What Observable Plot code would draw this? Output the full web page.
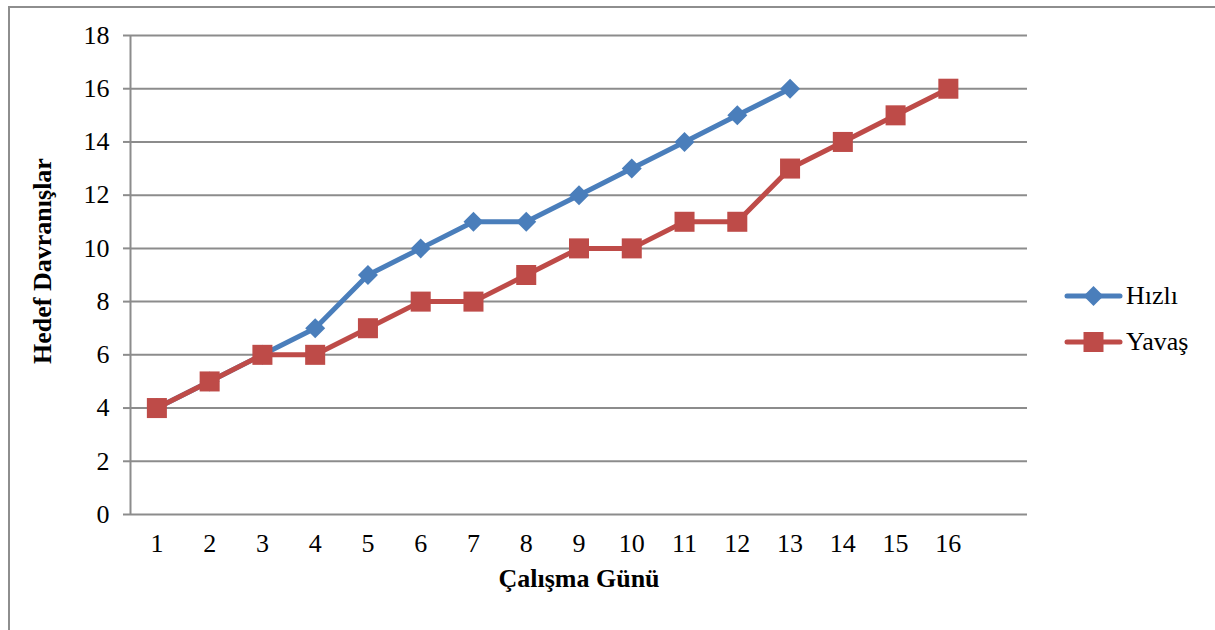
<!DOCTYPE html>
<html>
<head>
<meta charset="utf-8">
<script src="https://cdn.jsdelivr.net/npm/d3@7"></script>
<script src="https://cdn.jsdelivr.net/npm/@observablehq/plot@0.6"></script>
<style>
  html, body { margin: 0; padding: 0; background: #fff; overflow: hidden; }
  #wrap { position: relative; width: 1215px; height: 630px; overflow: hidden; font-family: "Liberation Serif", "Times New Roman", serif !important; }
  #wrap svg, #wrap svg text, #legend span { font-family: "Liberation Serif", "Times New Roman", serif !important; }
  #chart svg g[aria-label="y-axis tick label"] text, #chart svg g[aria-label="x-axis tick label"] text { font-size: 26px !important; }
  #border { position: absolute; left: 8px; top: 6px; width: 1220px; height: 700px; border: 2px solid #8e8e8e; box-sizing: border-box; }
  #chart { position: absolute; left: 0; top: 0; }
  #legend { position: absolute; left: 1064px; top: 273px; font-size: 26px; color: #000; }
  #legend .item { display: flex; align-items: center; height: 46px; }
  #legend svg { display: block; }
</style>
</head>
<body>
<div id="wrap">
  <div id="border"></div>
  <div id="chart"></div>
  <div id="legend"></div>
</div>
<script>
const days = [1, 2, 3, 4, 5, 6, 7, 8, 9, 10, 11, 12, 13, 14, 15, 16];
const hizli = [4, 5, 6, 7, 9, 10, 11, 11, 12, 13, 14, 15, 16];
const yavas = [4, 5, 6, 6, 7, 8, 8, 9, 10, 10, 11, 11, 13, 14, 15, 16];
const yTicks = [0, 2, 4, 6, 8, 10, 12, 14, 16, 18];
const seriesNames = ["Hızlı", "Yavaş"];
const colors = ["#4A7EBB", "#BE4B48"];
const xTitle = "Çalışma Günü";
const yTitle = "Hedef Davranışlar";

const hData = hizli.map((v, i) => ({day: days[i], value: v}));
const yData = yavas.map((v, i) => ({day: days[i], value: v}));

const chart = Plot.plot({
  width: 1215,
  height: 630,
  marginLeft: 130,
  marginRight: 188,
  marginTop: 35,
  marginBottom: 116,
  style: {fontFamily: "'Liberation Serif', 'Times New Roman', serif", fontSize: "26px", background: "transparent", color: "#000"},
  x: {domain: [0.5, 17.5], ticks: days},
  y: {domain: [0, 18], ticks: yTicks},
  marks: [
    Plot.ruleY(yTicks, {stroke: "#8c8c8c", strokeWidth: 2}),
    Plot.ruleX([0.5], {stroke: "#8c8c8c", strokeWidth: 2}),
    Plot.axisY({ticks: yTicks, tickSize: 7, tickPadding: 14, fontSize: 26, stroke: "#8c8c8c", strokeWidth: 2, label: null, tickFormat: d => String(d)}),
    Plot.axisX({ticks: days, tickSize: 0, tickPadding: 19, fontSize: 26, label: null, tickFormat: d => String(d)}),
    Plot.line(hData, {x: "day", y: "value", stroke: colors[0], strokeWidth: 5, strokeLinejoin: "round", strokeLinecap: "round"}),
    Plot.dot(hData, {x: "day", y: "value", symbol: "diamond2", r: 9, fill: colors[0], stroke: "none"}),
    Plot.line(yData, {x: "day", y: "value", stroke: colors[1], strokeWidth: 5, strokeLinejoin: "round", strokeLinecap: "round"}),
    Plot.dot(yData, {x: "day", y: "value", symbol: "square", r: 11.3, fill: colors[1], stroke: "none"}),
    Plot.text([xTitle], {frameAnchor: "bottom", dy: 64, fontSize: 26, fontWeight: "bold", lineAnchor: "middle", textAnchor: "middle"}),
    Plot.text([yTitle], {frameAnchor: "left", dx: -88, dy: -14, rotate: -90, fontSize: 26, fontWeight: "bold", lineAnchor: "middle", textAnchor: "middle"})
  ]
});
document.getElementById("chart").appendChild(chart);

// Legend
const legend = document.getElementById("legend");
seriesNames.forEach((name, i) => {
  const item = document.createElement("div");
  item.className = "item";
  const ns = "http://www.w3.org/2000/svg";
  const svg = document.createElementNS(ns, "svg");
  svg.setAttribute("width", 60);
  svg.setAttribute("height", 24);
  const line = document.createElementNS(ns, "line");
  line.setAttribute("x1", 3); line.setAttribute("x2", 56);
  line.setAttribute("y1", 12); line.setAttribute("y2", 12);
  line.setAttribute("stroke", colors[i]); line.setAttribute("stroke-width", 5);
  line.setAttribute("stroke-linecap", "round");
  svg.appendChild(line);
  const m = document.createElementNS(ns, "path");
  if (i === 0) m.setAttribute("d", "M29.5,2 L39.5,12 L29.5,22 L19.5,12 Z");
  else m.setAttribute("d", "M19.5,2 H39.5 V22 H19.5 Z");
  m.setAttribute("fill", colors[i]);
  svg.appendChild(m);
  item.appendChild(svg);
  const t = document.createElement("span");
  t.textContent = name;
  t.style.marginLeft = "2px";
  item.appendChild(t);
  legend.appendChild(item);
});
</script>
</body>
</html>
